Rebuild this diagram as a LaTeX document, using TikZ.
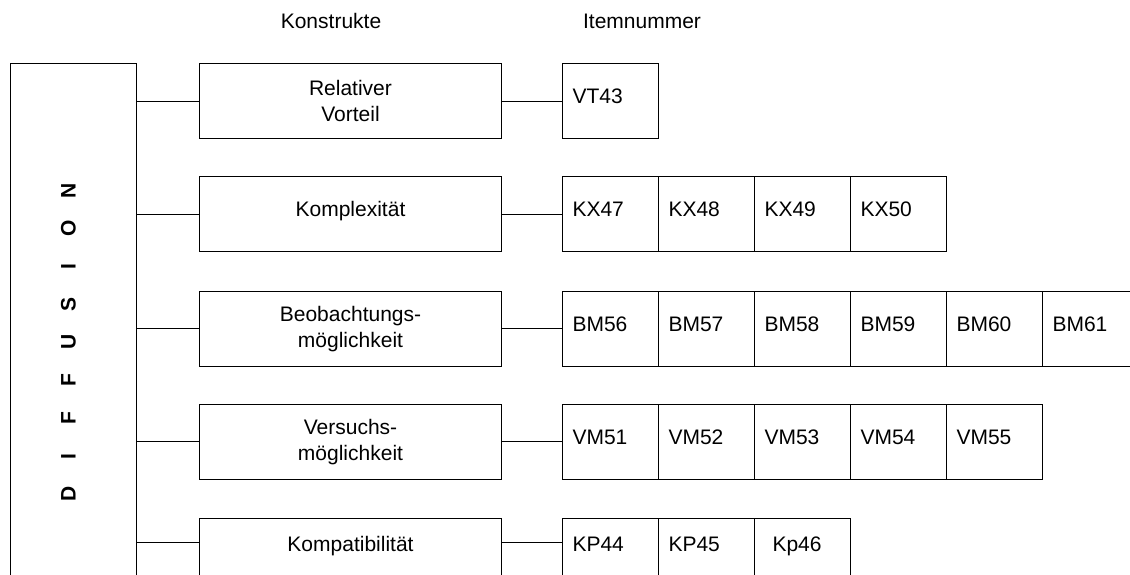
\documentclass[tikz,border=0pt]{standalone}
\usepackage{fontspec}
\setmainfont{Liberation Sans}
\usetikzlibrary{calc}
\begin{document}
\begin{tikzpicture}[x=1pt,y=-1pt,line width=1.1pt,
  every node/.style={font=\fontsize{21}{26}\selectfont},
  cbox/.style={draw,minimum width=302pt,minimum height=75pt,align=center,inner sep=0pt},
  oneline/.style={text height=15pt,text depth=10pt},
  ibox/.style={draw,minimum width=96pt,minimum height=75pt,inner xsep=10pt,inner ysep=0pt,
    text width=76pt,align=left,text height=15pt,text depth=10pt},
  lowrow/.style={text height=15pt,text depth=24pt},
  letter/.style={font=\bfseries\fontsize{21}{26}\selectfont,rotate=90,inner sep=0pt},
  head/.style={anchor=base,inner sep=0pt}]
\useasboundingbox (0,0) rectangle (1130,574);
\clip (0,0) rectangle (1130,574);

% column headings
\node[head] (kon) at (331,28.5) {Konstrukte};
\node[head] (itm) at (642,28.5) {Itemnummer};

% open frame on the left, its right side is the trunk
\draw (10.5,600) -- (10.5,63.5) -- (136.5,63.5) -- (136.5,600);
\foreach \l [count=\k from 0] in {D,I,F,F,U,S,I,O,N}
  \node[letter] (L\k) at (68.5,{494-37.9*\k}) {\l};

% construct boxes
\node[cbox] (c1) at (350.5,101) {Relativer\\Vorteil};
\node[cbox,oneline] (c2) at (350.5,214) {Komplexität};
\node[cbox] (c3) at (350.5,329) {Beobachtungs-\\möglichkeit};
\node[cbox] (c4) at (350.5,442) {Versuchs-\\möglichkeit};
\node[cbox,lowrow] (c5) at (350.5,556) {Kompatibilität};

% item boxes
\node[ibox] (i11) at (610.5,101) {VT43};
\foreach \t [count=\k] in {KX47,KX48,KX49,KX50}
  \node[ibox] (i2\k) at ({514.5+96*\k},214) {\t};
\foreach \t [count=\k] in {BM56,BM57,BM58,BM59,BM60,BM61}
  \node[ibox] (i3\k) at ({514.5+96*\k},329) {\t};
\foreach \t [count=\k] in {VM51,VM52,VM53,VM54,VM55}
  \node[ibox] (i4\k) at ({514.5+96*\k},442) {\t};
\node[ibox,lowrow] (i51) at (610.5,556) {KP44};
\node[ibox,lowrow] (i52) at (706.5,556) {KP45};
\node[ibox,lowrow] (i53) at (802.5,556) {\hspace*{8pt}Kp46};

% branches from the trunk
\coordinate (t1) at (136.5,101.5);
\coordinate (t2) at (136.5,214.5);
\coordinate (t3) at (136.5,328.5);
\coordinate (t4) at (136.5,441.5);
\coordinate (t5) at (136.5,542.5);
\foreach \r in {1,...,5}
  \draw (t\r) -- (t\r -| c\r.west)
        (t\r -| c\r.east) -- (t\r -| i\r1.west);
\end{tikzpicture}
\end{document}
